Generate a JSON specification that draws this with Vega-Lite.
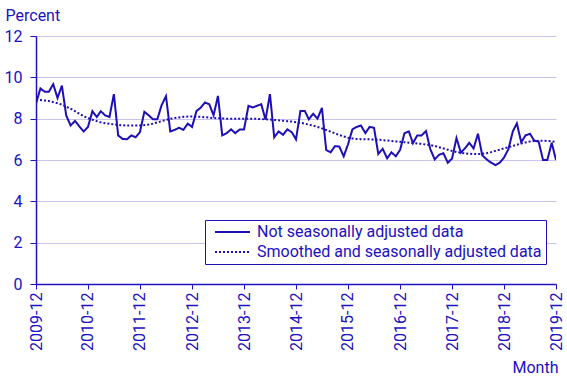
{
  "$schema": "https://vega.github.io/schema/vega-lite/v6.json",
  "autosize": "none",
  "width": 520,
  "height": 248,
  "padding": {"left": 36, "top": 36, "right": 11, "bottom": 94},
  "background": "white",
  "config": {
    "font": "Roboto",
    "view": {"stroke": null},
    "axis": {"labelFont": "Roboto", "titleFont": "Roboto", "labelColor": "#2010c0", "titleColor": "#2010c0", "domainColor": "#2010c0", "tickColor": "#2010c0", "labelFontSize": 16, "titleFontSize": 16, "titleFontWeight": "normal"},
    "legend": {"labelFont": "Roboto", "labelFontSize": 16, "labelColor": "#2010c0"}
  },
  "data": {"values": [
    {"m":"2009-12","nsa":8.73,"sa":8.9},
    {"m":"2010-01","nsa":9.46,"sa":8.9},
    {"m":"2010-02","nsa":9.3,"sa":8.88},
    {"m":"2010-03","nsa":9.3,"sa":8.85},
    {"m":"2010-04","nsa":9.67,"sa":8.8},
    {"m":"2010-05","nsa":9.0,"sa":8.75},
    {"m":"2010-06","nsa":9.6,"sa":8.68},
    {"m":"2010-07","nsa":8.16,"sa":8.58},
    {"m":"2010-08","nsa":7.67,"sa":8.48},
    {"m":"2010-09","nsa":7.89,"sa":8.36},
    {"m":"2010-10","nsa":7.63,"sa":8.24},
    {"m":"2010-11","nsa":7.38,"sa":8.12},
    {"m":"2010-12","nsa":7.6,"sa":8.02},
    {"m":"2011-01","nsa":8.36,"sa":7.95},
    {"m":"2011-02","nsa":8.08,"sa":7.88},
    {"m":"2011-03","nsa":8.36,"sa":7.82},
    {"m":"2011-04","nsa":8.16,"sa":7.78},
    {"m":"2011-05","nsa":8.08,"sa":7.75},
    {"m":"2011-06","nsa":9.19,"sa":7.72},
    {"m":"2011-07","nsa":7.19,"sa":7.7},
    {"m":"2011-08","nsa":7.02,"sa":7.68},
    {"m":"2011-09","nsa":7.0,"sa":7.67},
    {"m":"2011-10","nsa":7.19,"sa":7.67},
    {"m":"2011-11","nsa":7.1,"sa":7.67},
    {"m":"2011-12","nsa":7.35,"sa":7.67},
    {"m":"2012-01","nsa":8.33,"sa":7.69},
    {"m":"2012-02","nsa":8.16,"sa":7.72},
    {"m":"2012-03","nsa":7.97,"sa":7.76},
    {"m":"2012-04","nsa":7.97,"sa":7.82},
    {"m":"2012-05","nsa":8.65,"sa":7.88},
    {"m":"2012-06","nsa":9.09,"sa":7.94},
    {"m":"2012-07","nsa":7.38,"sa":7.99},
    {"m":"2012-08","nsa":7.46,"sa":8.03},
    {"m":"2012-09","nsa":7.56,"sa":8.06},
    {"m":"2012-10","nsa":7.46,"sa":8.09},
    {"m":"2012-11","nsa":7.76,"sa":8.1},
    {"m":"2012-12","nsa":7.6,"sa":8.1},
    {"m":"2013-01","nsa":8.37,"sa":8.1},
    {"m":"2013-02","nsa":8.54,"sa":8.09},
    {"m":"2013-03","nsa":8.78,"sa":8.07},
    {"m":"2013-04","nsa":8.7,"sa":8.05},
    {"m":"2013-05","nsa":8.16,"sa":8.03},
    {"m":"2013-06","nsa":9.1,"sa":8.02},
    {"m":"2013-07","nsa":7.19,"sa":8.01},
    {"m":"2013-08","nsa":7.3,"sa":8.0},
    {"m":"2013-09","nsa":7.48,"sa":8.0},
    {"m":"2013-10","nsa":7.3,"sa":8.0},
    {"m":"2013-11","nsa":7.48,"sa":8.0},
    {"m":"2013-12","nsa":7.48,"sa":8.0},
    {"m":"2014-01","nsa":8.62,"sa":8.0},
    {"m":"2014-02","nsa":8.54,"sa":8.0},
    {"m":"2014-03","nsa":8.62,"sa":7.99},
    {"m":"2014-04","nsa":8.7,"sa":7.98},
    {"m":"2014-05","nsa":7.95,"sa":7.97},
    {"m":"2014-06","nsa":9.19,"sa":7.96},
    {"m":"2014-07","nsa":7.1,"sa":7.94},
    {"m":"2014-08","nsa":7.38,"sa":7.92},
    {"m":"2014-09","nsa":7.22,"sa":7.9},
    {"m":"2014-10","nsa":7.48,"sa":7.88},
    {"m":"2014-11","nsa":7.35,"sa":7.86},
    {"m":"2014-12","nsa":7.0,"sa":7.83},
    {"m":"2015-01","nsa":8.37,"sa":7.8},
    {"m":"2015-02","nsa":8.37,"sa":7.76},
    {"m":"2015-03","nsa":7.97,"sa":7.71},
    {"m":"2015-04","nsa":8.24,"sa":7.66},
    {"m":"2015-05","nsa":8.0,"sa":7.6},
    {"m":"2015-06","nsa":8.52,"sa":7.53},
    {"m":"2015-07","nsa":6.49,"sa":7.45},
    {"m":"2015-08","nsa":6.37,"sa":7.37},
    {"m":"2015-09","nsa":6.67,"sa":7.29},
    {"m":"2015-10","nsa":6.65,"sa":7.21},
    {"m":"2015-11","nsa":6.18,"sa":7.14},
    {"m":"2015-12","nsa":6.75,"sa":7.08},
    {"m":"2016-01","nsa":7.48,"sa":7.04},
    {"m":"2016-02","nsa":7.6,"sa":7.02},
    {"m":"2016-03","nsa":7.67,"sa":7.01},
    {"m":"2016-04","nsa":7.3,"sa":7.0},
    {"m":"2016-05","nsa":7.6,"sa":7.0},
    {"m":"2016-06","nsa":7.56,"sa":6.99},
    {"m":"2016-07","nsa":6.29,"sa":6.98},
    {"m":"2016-08","nsa":6.54,"sa":6.96},
    {"m":"2016-09","nsa":6.08,"sa":6.94},
    {"m":"2016-10","nsa":6.37,"sa":6.92},
    {"m":"2016-11","nsa":6.18,"sa":6.9},
    {"m":"2016-12","nsa":6.49,"sa":6.88},
    {"m":"2017-01","nsa":7.3,"sa":6.86},
    {"m":"2017-02","nsa":7.38,"sa":6.84},
    {"m":"2017-03","nsa":6.81,"sa":6.82},
    {"m":"2017-04","nsa":7.19,"sa":6.8},
    {"m":"2017-05","nsa":7.19,"sa":6.78},
    {"m":"2017-06","nsa":7.4,"sa":6.75},
    {"m":"2017-07","nsa":6.53,"sa":6.72},
    {"m":"2017-08","nsa":6.03,"sa":6.68},
    {"m":"2017-09","nsa":6.25,"sa":6.62},
    {"m":"2017-10","nsa":6.33,"sa":6.56},
    {"m":"2017-11","nsa":5.87,"sa":6.5},
    {"m":"2017-12","nsa":6.07,"sa":6.44},
    {"m":"2018-01","nsa":7.06,"sa":6.39},
    {"m":"2018-02","nsa":6.36,"sa":6.35},
    {"m":"2018-03","nsa":6.56,"sa":6.32},
    {"m":"2018-04","nsa":6.83,"sa":6.3},
    {"m":"2018-05","nsa":6.56,"sa":6.29},
    {"m":"2018-06","nsa":7.27,"sa":6.29},
    {"m":"2018-07","nsa":6.23,"sa":6.3},
    {"m":"2018-08","nsa":6.03,"sa":6.33},
    {"m":"2018-09","nsa":5.87,"sa":6.38},
    {"m":"2018-10","nsa":5.75,"sa":6.44},
    {"m":"2018-11","nsa":5.87,"sa":6.5},
    {"m":"2018-12","nsa":6.12,"sa":6.56},
    {"m":"2019-01","nsa":6.53,"sa":6.62},
    {"m":"2019-02","nsa":7.39,"sa":6.68},
    {"m":"2019-03","nsa":7.77,"sa":6.74},
    {"m":"2019-04","nsa":6.86,"sa":6.8},
    {"m":"2019-05","nsa":7.19,"sa":6.85},
    {"m":"2019-06","nsa":7.27,"sa":6.89},
    {"m":"2019-07","nsa":6.94,"sa":6.92},
    {"m":"2019-08","nsa":6.89,"sa":6.93},
    {"m":"2019-09","nsa":6.0,"sa":6.93},
    {"m":"2019-10","nsa":6.0,"sa":6.92},
    {"m":"2019-11","nsa":6.83,"sa":6.9},
    {"m":"2019-12","nsa":6.0,"sa":6.88}
  ]},
  "transform": [{"fold": ["nsa", "sa"], "as": ["series", "value"]}],
  "mark": {"type": "line", "strokeWidth": 2, "color": "#1c0fb5", "clip": true},
  "encoding": {
    "x": {
      "field": "m", "type": "temporal",
      "scale": {"type": "utc", "domain": [{"year": 2009, "month": 12, "date": 1, "utc": true}, {"year": 2019, "month": 12, "date": 1, "utc": true}]},
      "axis": {
        "values": [
          {"year": 2009, "month": 12, "date": 1, "utc": true},
          {"year": 2010, "month": 12, "date": 1, "utc": true},
          {"year": 2011, "month": 12, "date": 1, "utc": true},
          {"year": 2012, "month": 12, "date": 1, "utc": true},
          {"year": 2013, "month": 12, "date": 1, "utc": true},
          {"year": 2014, "month": 12, "date": 1, "utc": true},
          {"year": 2015, "month": 12, "date": 1, "utc": true},
          {"year": 2016, "month": 12, "date": 1, "utc": true},
          {"year": 2017, "month": 12, "date": 1, "utc": true},
          {"year": 2018, "month": 12, "date": 1, "utc": true},
          {"year": 2019, "month": 12, "date": 1, "utc": true}
        ],
        "labelExpr": "utcFormat(datum.value, '%Y-%m')",
        "labelAngle": -90, "labelAlign": "right", "labelBaseline": "middle",
        "labelPadding": 3, "tickSize": 5, "grid": false, "domainWidth": 1.5,
        "labelOverlap": false, "labelFlush": false, "labelBound": false,
        "title": "Month", "titleAlign": "right", "titleAnchor": "end", "titleX": 522, "titleY": 88, "titleBaseline": "alphabetic"
      }
    },
    "y": {
      "field": "value", "type": "quantitative",
      "scale": {"domain": [0, 12], "nice": false},
      "axis": {
        "values": [0, 2, 4, 6, 8, 10, 12],
        "tickSize": 6, "labelPadding": 8, "grid": true, "gridColor": "#cac4ec", "gridWidth": 1, "domainWidth": 1.5,
        "title": "Percent", "titleAngle": 0, "titleAlign": "left", "titleX": -31, "titleY": -16, "titleBaseline": "alphabetic"
      }
    },
    "strokeDash": {
      "field": "series", "type": "nominal",
      "scale": {"domain": ["nsa", "sa"], "range": [[1, 0], [2, 2]]},
      "legend": {
        "title": null, "orient": "none", "legendX": 169, "legendY": 184,
        "labelExpr": "datum.value == 'nsa' ? 'Not seasonally adjusted data' : 'Smoothed and seasonally adjusted data'",
        "labelLimit": 400,
        "symbolType": "M-0.33,0H5.5", "symbolSize": 144, "symbolStrokeWidth": 2, "symbolStrokeColor": "#1c0fb5", "symbolFillColor": "transparent",
        "strokeColor": "#2010c0", "padding": 4, "rowPadding": 4, "labelOffset": 32, "fillColor": "white"
      }
    }
  }
}
